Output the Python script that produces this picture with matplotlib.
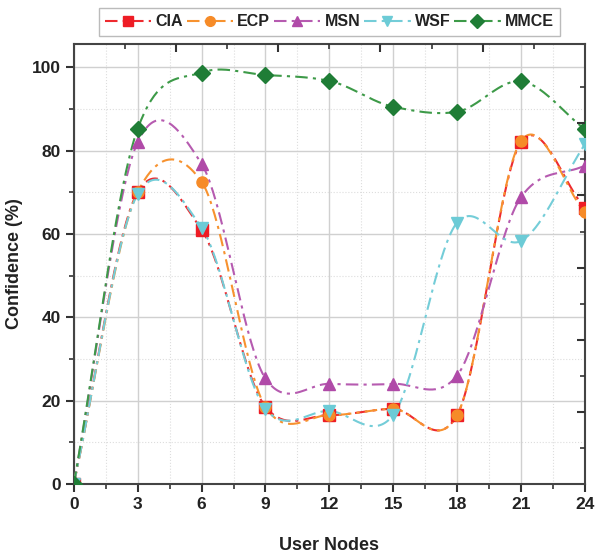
import numpy as np
import matplotlib
matplotlib.use("Agg")
import matplotlib.pyplot as plt
from matplotlib.ticker import MultipleLocator, FixedLocator

plt.rcParams['font.family'] = ['Liberation Sans', 'DejaVu Sans']
plt.rcParams['font.weight'] = 'bold'

# data
nodes = [0, 3, 6, 9, 12, 15, 18, 21, 24]
cia = [0, 70, 61, 18.5, 16.5, 18, 16.5, 82, 66.3]
ecp = [0, 70, 72.5, 18.5, 16.5, 18, 16.5, 82.3, 65.2]
msn = [0, 82, 76.8, 25.3, 24, 24, 26, 68.8, 76.4]
wsf = [0, 69.5, 61.5, 18, 17.5, 16.5, 62.7, 58.3, 81.5]
mmce = [0, 85.2, 98.7, 98.1, 96.7, 90.5, 89.3, 96.6, 85.1]

series = [
    ("CIA", cia, "#ee2a2f", "#ee1c25", "s"),
    ("ECP", ecp, "#f7922f", "#f68b28", "o"),
    ("MSN", msn, "#b65bb0", "#b04aa8", "^"),
    ("WSF", wsf, "#74cdd8", "#6ccbd6", "v"),
    ("MMCE", mmce, "#3d9a48", "#1f7d36", "D"),
]


def smooth_line(x, y, scale=0.85, n=40):
    # cardinal (Catmull-Rom like) spline, only for drawing the connecting curve
    x = np.asarray(x, float)
    y = np.asarray(y, float)
    m = np.zeros_like(y)
    m[1:-1] = (y[2:] - y[:-2]) / (x[2:] - x[:-2]) * scale
    m[0] = (y[1] - y[0]) / (x[1] - x[0])
    m[-1] = (y[-1] - y[-2]) / (x[-1] - x[-2])
    xs_all, ys_all = [], []
    for i in range(len(x) - 1):
        h = x[i + 1] - x[i]
        t = np.linspace(0, 1, n)
        h00 = 2 * t**3 - 3 * t**2 + 1
        h10 = t**3 - 2 * t**2 + t
        h01 = -2 * t**3 + 3 * t**2
        h11 = t**3 - t**2
        xs_all.append(x[i] + t * h)
        ys_all.append(h00 * y[i] + h10 * h * m[i] + h01 * y[i + 1] + h11 * h * m[i + 1])
    return np.concatenate(xs_all), np.concatenate(ys_all)


fig = plt.figure(figsize=(5.95, 5.53), dpi=100)
ax = fig.add_axes([0.124, 0.125, 0.859, 0.795])

dash = (0, (6, 2.5, 1.5, 2.5))
for name, vals, lc, mc, mk in series:
    xs, ys = smooth_line(nodes, vals)
    ax.plot(xs, ys, color=lc, lw=1.5, ls=dash, zorder=3)
    ax.plot(nodes, vals, ls='none', marker=mk, color=mc, ms=8, zorder=4)
    ax.plot([], [], color=lc, lw=1.5, ls=dash,
            marker=mk, mfc=mc, mec=mc, ms=7, label=name)

ax.set_xlim(0, 24)
ax.set_ylim(0, 105.5)
ax.xaxis.set_major_locator(MultipleLocator(3))
ax.xaxis.set_minor_locator(MultipleLocator(1.5))
ax.yaxis.set_major_locator(MultipleLocator(20))
ax.yaxis.set_minor_locator(MultipleLocator(10))
ax.grid(which='major', color='#d0d0d0', lw=1.0, zorder=0)
ax.grid(which='minor', color='#dddddd', lw=0.8, ls=':', zorder=0)
ax.tick_params(which='major', direction='out', length=6, width=1.5, labelsize=12.5, colors='#333333')
ax.tick_params(which='minor', direction='out', length=3.5, width=1.2, colors='#333333')
for lbl in ax.get_xticklabels() + ax.get_yticklabels():
    lbl.set_fontweight('bold')
    lbl.set_color('#222222')
for s in ax.spines.values():
    s.set_linewidth(1.5)
    s.set_color('#444444')

# top and right axes with their own inward ticks
top = ax.twiny()
top.set_xlim(0, 1)
top.xaxis.set_major_locator(FixedLocator([0.2, 0.4, 0.6, 0.8]))
top.xaxis.set_minor_locator(FixedLocator([0.1, 0.3, 0.5, 0.7, 0.9]))
top.tick_params(which='major', direction='in', length=6, width=1.5, labeltop=False, colors='#333333')
top.tick_params(which='minor', direction='in', length=3.5, width=1.2, colors='#333333')
right = ax.twinx()
right.set_ylim(0, 1)
right.yaxis.set_major_locator(FixedLocator([0.164, 0.328, 0.492, 0.656, 0.82]))
right.yaxis.set_minor_locator(FixedLocator([0.082, 0.246, 0.41, 0.574, 0.738, 0.902]))
right.tick_params(which='major', direction='in', length=6, width=1.5, labelright=False, colors='#333333')
right.tick_params(which='minor', direction='in', length=3.5, width=1.2, colors='#333333')
for a in (top, right):
    for s in a.spines.values():
        s.set_visible(False)

ax.set_xlabel('User Nodes', fontsize=13, fontweight='bold', color='#222222', labelpad=18)
ax.set_ylabel('Confidence (%)', fontsize=13, fontweight='bold', color='#222222', labelpad=6)

leg = ax.legend(loc='lower center', bbox_to_anchor=(0.5, 1.012), ncol=5, frameon=True,
                fancybox=False, edgecolor='#aaaaaa', fontsize=11.5, handlelength=2.9,
                handletextpad=0.25, columnspacing=0.25, borderpad=0.4, borderaxespad=0.2)
for t in leg.get_texts():
    t.set_fontweight('bold')
    t.set_color('#222222')

fig.savefig('out.png', dpi=100)
